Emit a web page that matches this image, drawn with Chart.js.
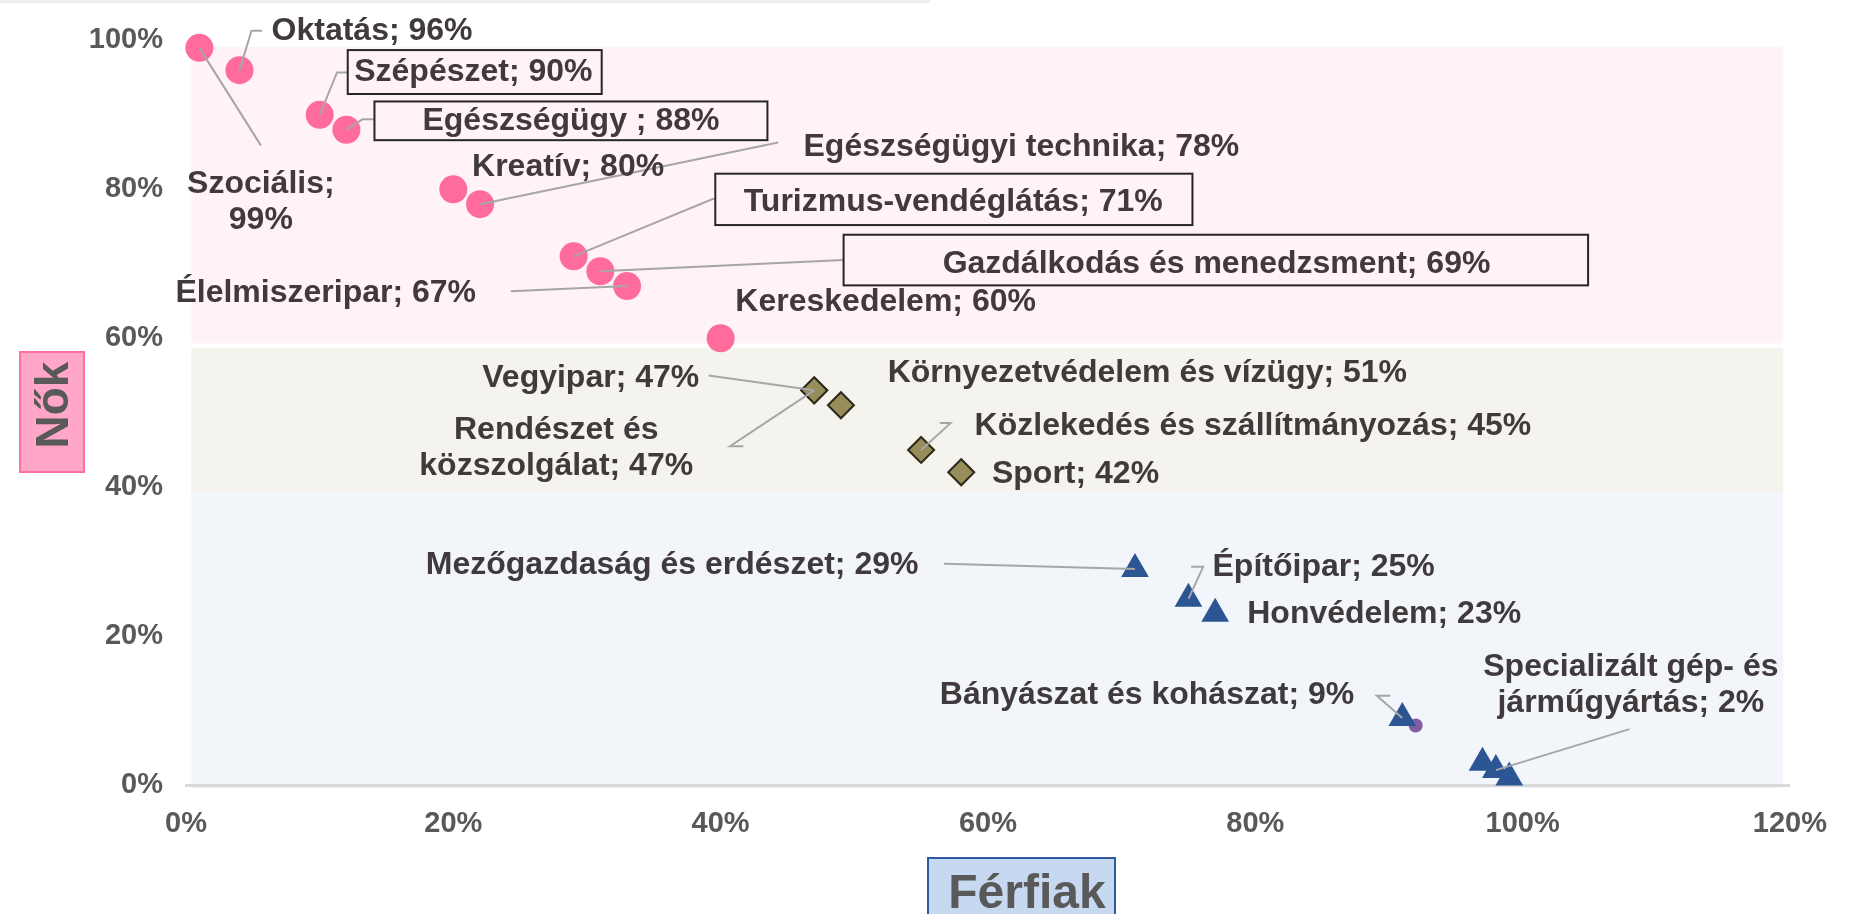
<!DOCTYPE html>
<html>
<head>
<meta charset="utf-8">
<script src="https://cdn.jsdelivr.net/npm/chart.js@4.4.1/dist/chart.umd.min.js"></script>
<style>
  html, body { margin: 0; padding: 0; background: #ffffff; }
  #wrap { position: relative; width: 1849px; height: 914px; overflow: hidden; }
  #strip { position: absolute; left: 0; top: 0; width: 930px; height: 3px; background: #eeeeee; }
  canvas { position: absolute; left: 0; top: 0; }
</style>
</head>
<body>
<div id="wrap">
  <canvas id="c" width="1849" height="914"></canvas>
  <div id="strip"></div>
</div>
<script>
// ---------------- DATA ----------------
// Women-dominated sectors (pink circles): x = men %, y = women %
const pinkNames  = ['Szociális', 'Oktatás', 'Szépészet', 'Egészségügy ', 'Kreatív', 'Egészségügyi technika', 'Turizmus-vendéglátás', 'Gazdálkodás és menedzsment', 'Élelmiszeripar', 'Kereskedelem'];
const pinkMen    = [1, 4, 10, 12, 20, 22, 29, 31, 33, 40];
const pinkWomen  = [99, 96, 90, 88, 80, 78, 71, 69, 67, 60];
const pinkShown  = [99, 96, 90, 88, 80, 78, 71, 69, 67, 60];

// Mixed sectors (olive diamonds)
const oliveNames = ['Vegyipar', 'Rendészet és közszolgálat', 'Környezetvédelem és vízügy', 'Közlekedés és szállítmányozás', 'Sport'];
const oliveMen   = [47, 47, 49, 55, 58];
const oliveWomen = [53, 53, 51, 45, 42];
const oliveShown = [47, 47, 51, 45, 42];

// Men-dominated sectors (blue triangles)
const blueNames  = ['Mezőgazdaság és erdészet', 'Építőipar', 'Honvédelem', 'Bányászat és kohászat', '', 'Specializált gép- és járműgyártás', ''];
const blueMen    = [71, 75, 77, 91, 97, 98, 99];
const blueWomen  = [29, 25, 23, 9, 3, 2, 1];
const blueShown  = [29, 25, 23, 9, 3, 2, 1];

// Extra (purple small circle)
const purpleMen   = [92];
const purpleWomen = [8];

// Background bands (women % ranges)
const bandRanges = [[59.3, 99.1], [39.4, 58.7], [-0.4, 39.4]];

// Axis ticks
const xTicks = [0, 20, 40, 60, 80, 100, 120];
const yTicks = [0, 20, 40, 60, 80, 100];
const xTitle = 'Férfiak';
const yTitle = 'Nők';

// ---------------- LABEL LAYOUT (positions in axis units) ----------------
const labelLayout = {
  'Szociális': { lines: ['Szociális;', '99%'], x: 5.6, y: 80.7, align: 'center', leader: [[5.6, 85.9]] },
  'Oktatás': { x: 6.4, y: 101.2, align: 'left', leader: [[4.9, 101.3], [5.7, 101.3]] },
  'Szépészet': { x: 21.5, y: 95.7, align: 'center', box: [12.1, 31.1, 98.7, 92.8], leader: [[11.3, 95.7], [12.1, 95.7]] },
  'Egészségügy ': { x: 28.8, y: 89.2, align: 'center', box: [14.1, 43.5, 91.8, 86.6], leader: [[13.2, 89.4], [14.1, 89.4]] },
  'Kreatív': { x: 21.4, y: 83.0, align: 'left' },
  'Egészségügyi technika': { x: 46.2, y: 85.7, align: 'left', leader: [[44.3, 86.3]] },
  'Turizmus-vendéglátás': { x: 57.4, y: 78.3, align: 'center', box: [39.6, 75.3, 82.1, 75.2], leader: [[39.4, 78.7], [39.6, 78.7]] },
  'Gazdálkodás és menedzsment': { x: 77.1, y: 70.0, align: 'center', box: [49.2, 104.9, 73.9, 67.1], leader: [[49.2, 70.5]] },
  'Élelmiszeripar': { x: 21.7, y: 66.0, align: 'right', leader: [[24.3, 66.3]] },
  'Kereskedelem': { x: 41.1, y: 64.9, align: 'left' },
  'Vegyipar': { x: 38.4, y: 54.6, align: 'right', leader: [[39.1, 55.0]] },
  'Rendészet és közszolgálat': { lines: ['Rendészet és', 'közszolgálat; 47%'], x: 27.7, y: 47.7, align: 'center', leader: [[40.7, 45.5], [41.7, 45.5]] },
  'Környezetvédelem és vízügy': { x: 52.5, y: 55.3, align: 'left' },
  'Közlekedés és szállítmányozás': { x: 59.0, y: 48.2, align: 'left', leader: [[57.2, 48.6], [56.4, 48.6]] },
  'Sport': { x: 60.3, y: 41.8, align: 'left' },
  'Mezőgazdaság és erdészet': { x: 54.8, y: 29.5, align: 'right', leader: [[56.7, 29.7]] },
  'Építőipar': { x: 76.8, y: 29.2, align: 'left', leader: [[76.1, 29.3], [75.2, 29.3]] },
  'Honvédelem': { x: 79.4, y: 23.0, align: 'left' },
  'Bányászat és kohászat': { x: 87.4, y: 12.0, align: 'right', leader: [[89.1, 12.0], [90.1, 12.0]] },
  'Specializált gép- és járműgyártás': { lines: ['Specializált gép- és', 'járműgyártás; 2%'], x: 108.1, y: 15.8, align: 'center', leader: [[108.0, 7.5]] }
};

// ---------------- STYLE ----------------
const FONT = "'Liberation Sans', Arial, Helvetica, sans-serif";
const LABEL_COLOR = '#403a3c';
const TICK_COLOR = '#595959';
const LEADER_COLOR = '#a6a6a6';
const bandColors = ['#fff3f7', '#f4f3ee', '#f2f5fa'];

function pts(men, women) { return men.map((m, i) => ({ x: m, y: women[i] })); }

const groups = [
  { names: pinkNames, men: pinkMen, women: pinkWomen, shown: pinkShown },
  { names: oliveNames, men: oliveMen, women: oliveWomen, shown: oliveShown },
  { names: blueNames, men: blueMen, women: blueWomen, shown: blueShown }
];

const bandsPlugin = {
  id: 'bands',
  beforeDraw(chart) {
    const { ctx, scales: { x, y } } = chart;
    ctx.save();
    bandRanges.forEach((r, i) => {
      const x1 = x.getPixelForValue(0.4), x2 = x.getPixelForValue(119.5);
      const yTop = y.getPixelForValue(r[1]), yBot = y.getPixelForValue(r[0]);
      ctx.fillStyle = bandColors[i];
      ctx.fillRect(x1, yTop, x2 - x1, yBot - yTop);
    });
    ctx.restore();
  }
};

const labelsPlugin = {
  id: 'labelsPlugin',
  afterDatasetsDraw(chart) {
    const { ctx, scales: { x, y } } = chart;
    ctx.save();
    // leaders first
    groups.forEach(g => {
      g.names.forEach((name, i) => {
        const L = labelLayout[name];
        if (!name || !L || !L.leader) return;
        ctx.beginPath();
        ctx.strokeStyle = LEADER_COLOR;
        ctx.lineWidth = 2;
        ctx.moveTo(x.getPixelForValue(g.men[i]), y.getPixelForValue(g.women[i]));
        L.leader.forEach(p => ctx.lineTo(x.getPixelForValue(p[0]), y.getPixelForValue(p[1])));
        ctx.stroke();
      });
    });
    // boxes and text
    ctx.font = 'bold 32px ' + FONT;
    ctx.textBaseline = 'middle';
    groups.forEach(g => {
      g.names.forEach((name, i) => {
        const L = labelLayout[name];
        if (!name || !L) return;
        if (L.box) {
          const bx1 = x.getPixelForValue(L.box[0]), bx2 = x.getPixelForValue(L.box[1]);
          const by1 = y.getPixelForValue(L.box[2]), by2 = y.getPixelForValue(L.box[3]);
          ctx.strokeStyle = '#262626';
          ctx.lineWidth = 2;
          ctx.strokeRect(bx1, by1, bx2 - bx1, by2 - by1);
        }
        const lines = L.lines || [name + '; ' + g.shown[i] + '%'];
        ctx.fillStyle = LABEL_COLOR;
        ctx.textAlign = L.align;
        const px = x.getPixelForValue(L.x);
        const py = y.getPixelForValue(L.y);
        lines.forEach((t, k) => ctx.fillText(t, px, py + k * 36));
      });
    });
    ctx.restore();
  },
  afterDraw(chart) {
    const { ctx } = chart;
    ctx.save();
    // Y title box (Nők)
    ctx.fillStyle = '#ffa6c9';
    ctx.fillRect(20, 352, 64, 120);
    ctx.strokeStyle = '#ff6f9f';
    ctx.lineWidth = 2;
    ctx.strokeRect(20, 352, 64, 120);
    ctx.translate(53, 405);
    ctx.rotate(-Math.PI / 2);
    ctx.fillStyle = '#595959';
    ctx.font = 'bold 46px ' + FONT;
    ctx.textAlign = 'center';
    ctx.textBaseline = 'middle';
    ctx.fillText(yTitle, 0, 2);
    ctx.restore();
    // X title box (Férfiak)
    ctx.save();
    ctx.fillStyle = '#c6d9f1';
    ctx.fillRect(928, 858, 187, 80);
    ctx.strokeStyle = '#2f5a9e';
    ctx.lineWidth = 2;
    ctx.strokeRect(928, 858, 187, 80);
    ctx.fillStyle = '#595959';
    ctx.font = 'bold 48px ' + FONT;
    ctx.textAlign = 'center';
    ctx.textBaseline = 'alphabetic';
    ctx.fillText(xTitle, 1027, 908);
    ctx.restore();
  }
};

new Chart(document.getElementById('c'), {
  type: 'scatter',
  data: {
    datasets: [
      { label: 'Nők többsége', data: pts(pinkMen, pinkWomen), pointStyle: 'circle', pointRadius: 14, pointHoverRadius: 14,
        backgroundColor: '#ff6b9b', borderColor: '#ff6b9b', borderWidth: 0, clip: false },
      { label: 'Vegyes', data: pts(oliveMen, oliveWomen), pointStyle: 'rectRot', pointRadius: 13, pointHoverRadius: 13,
        backgroundColor: '#968d5a', borderColor: '#2b2819', borderWidth: 2, clip: false },
      { label: 'Férfiak többsége', data: pts(blueMen, blueWomen), pointStyle: 'triangle', pointRadius: 16, pointHoverRadius: 16,
        backgroundColor: '#2c5693', borderColor: '#2c5693', borderWidth: 0, clip: false },
      { label: 'Egyéb', data: pts(purpleMen, purpleWomen), pointStyle: 'circle', pointRadius: 7, pointHoverRadius: 7,
        backgroundColor: '#7e5ea0', borderColor: '#7e5ea0', borderWidth: 0, clip: false }
    ]
  },
  options: {
    responsive: false,
    animation: false,
    events: [],
    layout: { padding: { left: 0, right: 50, top: 38, bottom: 0 } },
    plugins: { legend: { display: false }, tooltip: { enabled: false }, title: { display: false } },
    scales: {
      x: {
        type: 'linear', min: 0, max: 120,
        afterFit(s) { s.height = 129; },
        afterBuildTicks(s) { s.ticks = xTicks.map(v => ({ value: v })); },
        grid: { display: false, drawTicks: false },
        border: { display: true, color: '#d9d9d9', width: 3 },
        ticks: { padding: 22, color: TICK_COLOR, font: { family: FONT, size: 29, weight: 'bold' }, callback: v => v + '%' }
      },
      y: {
        type: 'linear', min: 0, max: 100,
        afterFit(s) { s.width = 186; },
        afterBuildTicks(s) { s.ticks = yTicks.map(v => ({ value: v })); },
        grid: { display: false, drawTicks: false },
        border: { display: false },
        ticks: { padding: 23, color: TICK_COLOR, font: { family: FONT, size: 29, weight: 'bold' }, callback: v => v + '%' }
      }
    }
  },
  plugins: [bandsPlugin, labelsPlugin]
});
</script>
</body>
</html>
